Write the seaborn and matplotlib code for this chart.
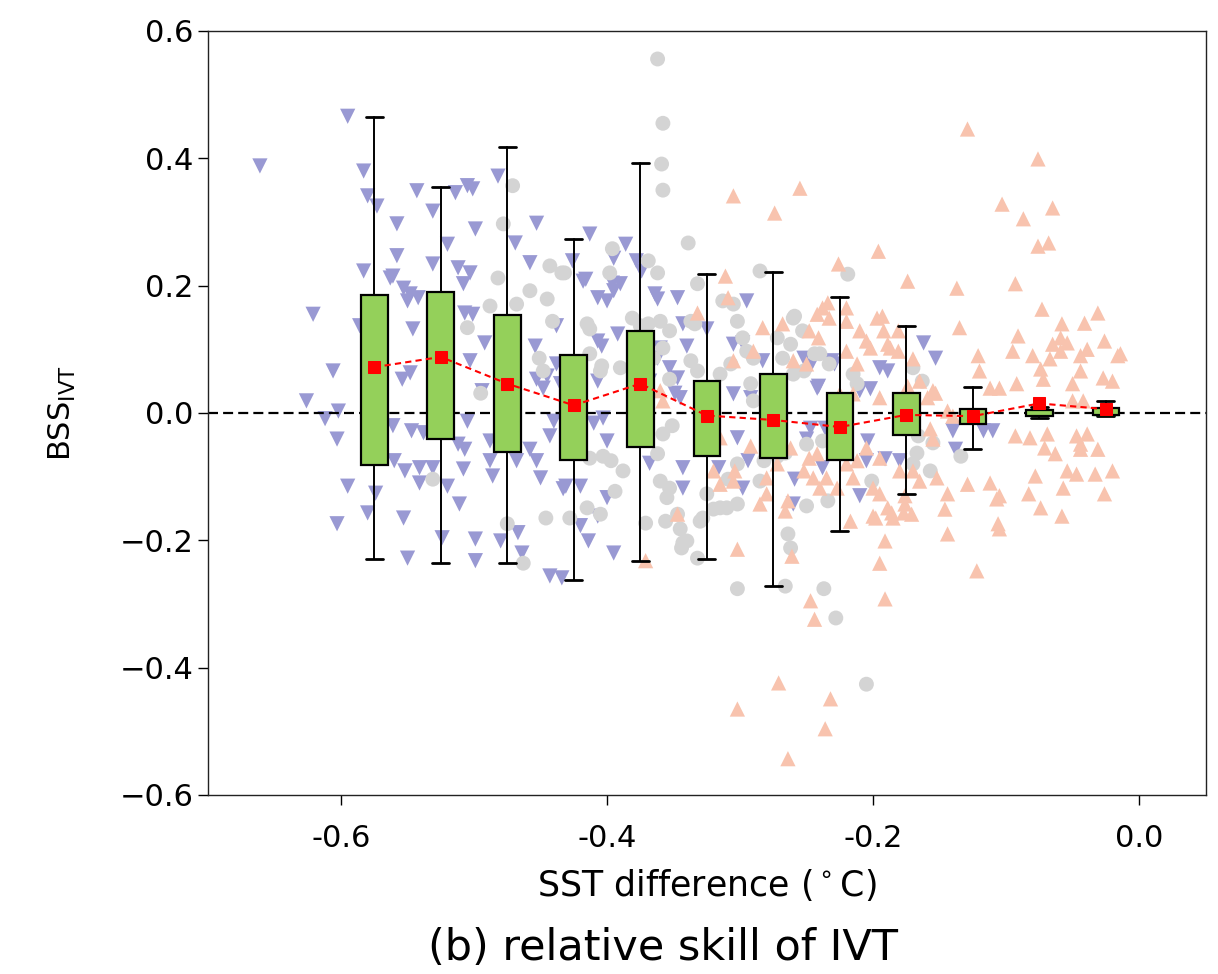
import matplotlib
matplotlib.use("Agg")
import matplotlib.pyplot as plt
import seaborn as sns
import pandas as pd

# ---------------- data ----------------
cool_sst = [-0.661, -0.595, -0.583, -0.580, -0.573, -0.543, -0.531, -0.514, -0.505, -0.501,
            -0.482, -0.558, -0.499, -0.520, -0.469, -0.453, -0.558, -0.583, -0.561, -0.553,
            -0.548, -0.550, -0.531, -0.512, -0.503, -0.508, -0.458, -0.621, -0.546, -0.507,
            -0.501, -0.492, -0.454, -0.438, -0.586, -0.606, -0.626, -0.612, -0.602, -0.563,
            -0.542, -0.554, -0.494, -0.448, -0.426, -0.413, -0.416, -0.407, -0.400, -0.395,
            -0.386, -0.395, -0.390, -0.378, -0.364, -0.347, -0.407, -0.404, -0.392, -0.362,
            -0.353, -0.340, -0.343, -0.438, -0.435, -0.407, -0.345,
            -0.595, -0.580, -0.574, -0.603, -0.603, -0.561, -0.547, -0.538, -0.560, -0.552,
            -0.541, -0.541, -0.531, -0.553, -0.550, -0.524, -0.511, -0.520, -0.508, -0.512,
            -0.507, -0.505, -0.499, -0.499, -0.488, -0.486, -0.488, -0.480, -0.467, -0.464,
            -0.468, -0.458, -0.453, -0.450, -0.453, -0.445, -0.440, -0.443, -0.433, -0.443,
            -0.434, -0.503, -0.548, -0.403, -0.410, -0.400, -0.431, -0.420, -0.400, -0.407,
            -0.420, -0.414, -0.395, -0.368, -0.368, -0.347, -0.349, -0.343, -0.343, -0.305,
            -0.302, -0.298, -0.294, -0.316, -0.259, -0.260, -0.250, -0.241, -0.238, -0.210,
            -0.205, -0.202, -0.418, -0.396, -0.374, -0.362, -0.325, -0.295, -0.305, -0.298,
            -0.283, -0.252, -0.231, -0.360, -0.247, -0.229, -0.242, -0.195, -0.189, -0.162,
            -0.153, -0.292, -0.210, -0.191, -0.180, -0.204, -0.247, -0.236, -0.138, -0.117,
            -0.110, -0.140]
cool_bss = [0.388, 0.466, 0.380, 0.341, 0.325, 0.349, 0.317, 0.346, 0.357, 0.352,
            0.372, 0.297, 0.289, 0.265, 0.267, 0.298, 0.247, 0.223, 0.215, 0.196,
            0.187, 0.176, 0.234, 0.228, 0.220, 0.203, 0.236, 0.155, 0.132, 0.157,
            0.155, 0.110, 0.105, 0.137, 0.137, 0.066, 0.019, -0.009, 0.003, 0.212,
            0.181, 0.053, 0.035, 0.039, 0.239, 0.281, 0.210, 0.181, 0.176, 0.192,
            0.265, 0.243, 0.203, 0.239, 0.187, 0.181, 0.113, 0.105, 0.124, 0.086,
            0.071, 0.105, 0.140, 0.077, 0.046, 0.050, 0.024,
            -0.115, -0.157, -0.126, -0.174, -0.041, -0.020, -0.028, -0.031, -0.075, -0.091,
            -0.086, -0.110, -0.086, -0.165, -0.228, -0.196, -0.143, -0.115, -0.088, -0.049,
            -0.057, -0.013, -0.198, -0.232, -0.075, -0.099, -0.044, -0.201, -0.188, -0.220,
            -0.075, -0.057, -0.075, -0.102, 0.053, 0.058, -0.013, -0.036, -0.119, -0.256,
            -0.259, 0.082, 0.063, -0.008, -0.016, -0.044, -0.115, -0.115, -0.133, -0.162,
            -0.177, -0.201, -0.220, -0.079, 0.050, 0.055, 0.031, -0.086, -0.118, 0.030,
            -0.039, -0.118, -0.075, -0.086, -0.104, -0.143, -0.041, 0.042, -0.086, -0.130,
            -0.075, 0.038, 0.207, 0.204, 0.223, 0.179, 0.132, 0.176, 0.108, 0.110,
            0.082, 0.086, 0.082, 0.102, 0.074, 0.077, 0.039, 0.071, 0.066, 0.110,
            0.086, 0.024, 0.035, -0.072, -0.075, -0.044, -0.024, -0.024, -0.057, -0.028,
            -0.028, -0.028]

neutral_sst = [-0.362, -0.358, -0.359, -0.358, -0.339, -0.285, -0.219, -0.432, -0.396, -0.398,
               -0.369, -0.362, -0.332, -0.313, -0.305, -0.302, -0.381, -0.375, -0.413, -0.360,
               -0.353, -0.334, -0.290, -0.295, -0.260, -0.253, -0.262, -0.240, -0.471, -0.478,
               -0.482, -0.488, -0.468, -0.458, -0.445, -0.443, -0.434, -0.441, -0.505, -0.451,
               -0.415, -0.413, -0.420, -0.404, -0.380, -0.365, -0.369, -0.358, -0.353, -0.337,
               -0.448, -0.495, -0.531, -0.475, -0.463, -0.446, -0.394, -0.415, -0.405, -0.397,
               -0.388, -0.403, -0.360, -0.353, -0.347, -0.343, -0.345, -0.330, -0.358, -0.351,
               -0.362, -0.420, -0.413, -0.428, -0.355, -0.356, -0.340, -0.344, -0.371, -0.328,
               -0.320, -0.310, -0.302, -0.332, -0.302, -0.264, -0.262, -0.266, -0.237, -0.228,
               -0.282, -0.285, -0.250, -0.260, -0.252, -0.405, -0.390, -0.371, -0.337, -0.332,
               -0.315, -0.292, -0.290, -0.201, -0.205, -0.309, -0.302, -0.272, -0.266, -0.250,
               -0.238, -0.234, -0.167, -0.170, -0.155, -0.157, -0.166, -0.134, -0.298, -0.307,
               -0.272, -0.268, -0.233, -0.244, -0.170, -0.163, -0.215, -0.212, -0.259, -0.325,
               -0.315]
neutral_bss = [0.556, 0.455, 0.391, 0.350, 0.267, 0.223, 0.218, 0.220, 0.258, 0.220,
               0.239, 0.220, 0.203, 0.176, 0.171, 0.144, 0.149, 0.137, 0.132, 0.144,
               0.129, 0.140, 0.086, 0.097, 0.149, 0.129, 0.108, 0.093, 0.357, 0.297,
               0.212, 0.168, 0.171, 0.192, 0.179, 0.231, 0.220, 0.144, 0.134, 0.086,
               0.140, 0.093, 0.071, 0.074, 0.077, 0.086, 0.140, 0.102, 0.053, 0.144,
               0.066, 0.031, -0.104, -0.174, -0.236, -0.165, -0.123, -0.149, -0.159, -0.075,
               -0.091, -0.068, -0.107, -0.118, -0.159, -0.204, -0.182, -0.170, -0.033, -0.020,
               -0.064, 0.014, -0.071, -0.165, -0.133, -0.170, -0.201, -0.212, -0.173, -0.165,
               -0.151, -0.149, -0.143, -0.228, -0.276, -0.190, -0.212, -0.272, -0.276, -0.322,
               -0.075, -0.107, -0.146, 0.061, 0.066, 0.066, 0.071, 0.003, 0.082, 0.066,
               0.061, 0.046, 0.019, -0.107, -0.426, -0.104, -0.080, -0.068, -0.063, -0.049,
               -0.044, -0.138, -0.063, -0.080, -0.047, -0.091, -0.036, -0.068, 0.118, 0.077,
               0.118, 0.086, 0.077, 0.093, 0.071, 0.050, 0.061, 0.046, 0.152, -0.127,
               -0.149]

warm_sst = [-0.129, -0.076, -0.103, -0.087, -0.065, -0.076, -0.068, -0.093, -0.305, -0.274,
            -0.255, -0.196, -0.226, -0.311, -0.174, -0.137, -0.135, -0.073, -0.031, -0.058,
            -0.041, -0.026, -0.014, -0.091, -0.095, -0.080, -0.065, -0.059, -0.054, -0.067,
            -0.044, -0.039, -0.121, -0.120, -0.074, -0.072, -0.044, -0.050, -0.027, -0.020,
            -0.193, -0.234, -0.242, -0.233, -0.210, -0.205, -0.189, -0.220, -0.212, -0.181,
            -0.170, -0.165, -0.153, -0.283, -0.248, -0.290, -0.268, -0.305, -0.250, -0.280,
            -0.272, -0.225, -0.215, -0.105, -0.092, -0.195, -0.302, -0.261, -0.247, -0.244,
            -0.271, -0.302, -0.232, -0.236, -0.264, -0.191, -0.195, -0.191, -0.217, -0.200,
            -0.186, -0.177, -0.171, -0.189, -0.176, -0.144, -0.146, -0.144, -0.152, -0.129,
            -0.122, -0.112, -0.105, -0.106, -0.105, -0.083, -0.058, -0.057, -0.054, -0.047,
            -0.033, -0.020, -0.026, -0.031, -0.044, -0.047, -0.069, -0.093, -0.082, -0.074,
            -0.063, -0.071, -0.078, -0.176, -0.157, -0.155, -0.165, -0.170, -0.180, -0.200,
            -0.264, -0.266, -0.285, -0.280, -0.252, -0.245, -0.235, -0.240, -0.248, -0.280,
            -0.272, -0.315, -0.305, -0.292, -0.220, -0.212, -0.205, -0.195, -0.159, -0.155,
            -0.174, -0.140, -0.144, -0.112, -0.050, -0.042, -0.195, -0.185, -0.198, -0.107,
            -0.044, -0.039, -0.371, -0.360, -0.358, -0.315, -0.262, -0.242, -0.227, -0.215,
            -0.320, -0.347, -0.304, -0.332, -0.238, -0.220, -0.220, -0.197, -0.241, -0.309,
            -0.260, -0.192, -0.181, -0.202, -0.187, -0.059, -0.016]
warm_bss = [0.446, 0.399, 0.328, 0.305, 0.322, 0.262, 0.267, 0.203, 0.341, 0.314,
            0.353, 0.254, 0.234, 0.215, 0.207, 0.196, 0.134, 0.163, 0.157, 0.140,
            0.141, 0.113, 0.093, 0.121, 0.097, 0.090, 0.108, 0.097, 0.110, 0.085,
            0.090, 0.100, 0.090, 0.066, 0.069, 0.053, 0.066, 0.046, 0.055, 0.050,
            0.152, 0.173, 0.155, 0.149, 0.129, 0.113, 0.108, 0.097, 0.077, 0.097,
            0.085, 0.050, 0.031, 0.134, 0.129, 0.097, 0.140, 0.082, 0.077, 0.030,
            0.046, 0.030, 0.030, 0.039, 0.046, 0.024, -0.214, -0.225, -0.295, -0.324,
            -0.424, -0.465, -0.449, -0.496, -0.543, -0.201, -0.236, -0.292, -0.170, -0.162,
            -0.157, -0.157, -0.159, -0.149, -0.143, -0.190, -0.151, -0.127, -0.102, -0.112,
            -0.248, -0.110, -0.130, -0.174, -0.182, -0.127, -0.162, -0.118, -0.091, -0.096,
            -0.096, -0.091, -0.127, -0.057, -0.049, -0.036, -0.033, -0.036, -0.039, -0.149,
            -0.064, -0.055, -0.099, -0.130, -0.025, -0.041, -0.107, -0.091, -0.091, -0.118,
            -0.138, -0.154, -0.143, -0.127, -0.091, -0.102, -0.102, -0.118, -0.071, -0.102,
            -0.080, -0.112, -0.107, -0.052, -0.080, -0.075, -0.055, -0.071, 0.024, 0.035,
            0.042, -0.005, 0.003, 0.039, 0.019, 0.019, -0.127, -0.165, -0.165, -0.135,
            -0.057, -0.033, -0.232, 0.035, 0.019, -0.039, -0.055, -0.064, -0.118, -0.102,
            -0.091, -0.159, -0.091, 0.157, 0.165, 0.165, 0.144, 0.149, 0.118, 0.181,
            0.082, 0.129, 0.129, 0.102, 0.102, 0.118, 0.090]

bin_center = [-0.575, -0.525, -0.475, -0.425, -0.375, -0.325,
              -0.275, -0.225, -0.175, -0.125, -0.075, -0.025]
whisker_low = [-0.229, -0.236, -0.236, -0.262, -0.232, -0.229,
               -0.271, -0.185, -0.128, -0.057, -0.008, -0.005]
q1 = [-0.081, -0.041, -0.062, -0.074, -0.053, -0.068,
      -0.070, -0.074, -0.035, -0.018, -0.004, -0.003]
median = [0.049, 0.133, 0.037, -0.001, 0.029, -0.009,
          0.000, -0.010, -0.002, 0.000, 0.000, 0.000]
q3 = [0.185, 0.190, 0.154, 0.091, 0.129, 0.051,
      0.062, 0.031, 0.032, 0.007, 0.004, 0.008]
whisker_high = [0.465, 0.355, 0.418, 0.274, 0.392, 0.218,
                0.222, 0.182, 0.136, 0.041, 0.010, 0.019]
mean = [0.072, 0.088, 0.046, 0.012, 0.046, -0.004,
        -0.011, -0.022, -0.003, -0.005, 0.015, 0.006]

x_ticks = [-0.6, -0.4, -0.2, 0.0]
x_tick_labels = ["-0.6", "-0.4", "-0.2", "0.0"]
y_ticks = [-0.6, -0.4, -0.2, 0.0, 0.2, 0.4, 0.6]

# ---------------- figure ----------------
sns.set_style("ticks")
plt.rcParams["font.family"] = ["DejaVu Sans"]
plt.rcParams["axes.unicode_minus"] = True
plt.rcParams["text.color"] = "black"
plt.rcParams["axes.labelcolor"] = "black"
plt.rcParams["xtick.color"] = "black"
plt.rcParams["ytick.color"] = "black"

fig = plt.figure(figsize=(12.18, 9.74), dpi=100)
ax = fig.add_axes([0.1708, 0.1838, 0.819, 0.7844])

cool = pd.DataFrame({"sst": cool_sst, "bss": cool_bss})
neutral = pd.DataFrame({"sst": neutral_sst, "bss": neutral_bss})
warm = pd.DataFrame({"sst": warm_sst, "bss": warm_bss})

sns.scatterplot(data=cool, x="sst", y="bss", marker="v", s=120, color="#9999d3",
                edgecolor="none", linewidth=0, ax=ax, zorder=1)
sns.scatterplot(data=neutral, x="sst", y="bss", marker="o", s=115, color="#d4d4d4",
                edgecolor="none", linewidth=0, ax=ax, zorder=1)
sns.scatterplot(data=warm, x="sst", y="bss", marker="^", s=120, color="#f8c3ae",
                edgecolor="none", linewidth=0, ax=ax, zorder=1)

ax.axhline(0, color="black", linestyle=(0, (4.5, 2.3)), linewidth=1.6, zorder=2)

stats = [dict(med=m, q1=a, q3=b, whislo=lo, whishi=hi, fliers=[])
         for m, a, b, lo, hi in zip(median, q1, q3, whisker_low, whisker_high)]
ax.bxp(stats, positions=bin_center, widths=0.02, capwidths=0.013, patch_artist=True,
       showfliers=False, manage_ticks=False,
       boxprops=dict(facecolor="#94d05a", edgecolor="black", linewidth=1.6),
       medianprops=dict(color="#008000", linewidth=3.8, solid_capstyle="butt"),
       whiskerprops=dict(color="black", linewidth=1.4),
       capprops=dict(color="black", linewidth=2.0))
for art in ax.patches:
    art.set_zorder(3)

sns.lineplot(x=bin_center, y=mean, color="red", linestyle=(0, (3, 2)), linewidth=1.5,
             marker="s", markersize=8, markeredgecolor="red", markerfacecolor="red",
             ax=ax, zorder=5)

ax.set_xlim(-0.7, 0.05)
ax.set_ylim(-0.6, 0.6)
ax.set_xticks(x_ticks)
ax.set_xticklabels(x_tick_labels)
ax.set_yticks(y_ticks)
ax.tick_params(axis="both", labelsize=22, length=7, width=1, direction="out",
               colors="black")
ax.tick_params(axis="x", pad=14)
for sp in ax.spines.values():
    sp.set_visible(True)
    sp.set_linewidth(1.0)
    sp.set_color("#222222")

ax.set_xlabel("SST difference ($^\\circ$C)", fontsize=25, labelpad=10, color="black")
ax.set_ylabel("BSS$_{\\mathrm{IVT}}$", fontsize=22, labelpad=30, color="black")
fig.text(0.544, 0.014, "(b) relative skill of IVT", ha="center", va="baseline",
         fontsize=31, color="black")

fig.savefig("out.png", dpi=100)
